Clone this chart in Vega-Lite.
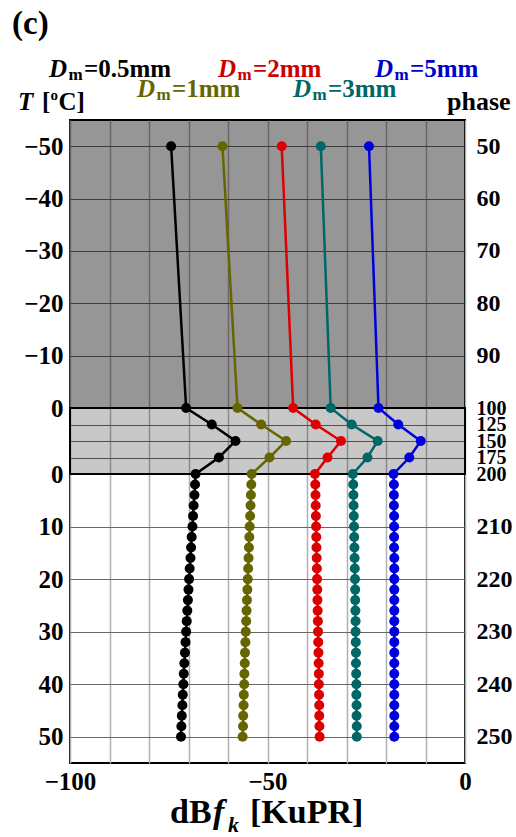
{
  "$schema": "https://vega.github.io/schema/vega-lite/v6.json",
  "width": 395,
  "height": 643,
  "autosize": "none",
  "padding": {"left": 70, "top": 120, "right": 51, "bottom": 74},
  "background": "white",
  "config": {"font": "Liberation Serif", "view": {"stroke": "black", "strokeWidth": 2}},
  "resolve": {"axis": {"x": "independent", "y": "independent"}},
  "datasets": {
    "series": [
      {"Dm": "0.5mm", "phase": 50, "dB": -74.4}, {"Dm": "0.5mm", "phase": 100, "dB": -70.6}, {"Dm": "0.5mm", "phase": 125, "dB": -64.1}, {"Dm": "0.5mm", "phase": 150, "dB": -58.1}, {"Dm": "0.5mm", "phase": 175, "dB": -62.3}, {"Dm": "0.5mm", "phase": 200, "dB": -68.2},
      {"Dm": "0.5mm", "phase": 202, "dB": -68.35}, {"Dm": "0.5mm", "phase": 204, "dB": -68.5}, {"Dm": "0.5mm", "phase": 206, "dB": -68.7}, {"Dm": "0.5mm", "phase": 208, "dB": -68.85}, {"Dm": "0.5mm", "phase": 210, "dB": -69.0}, {"Dm": "0.5mm", "phase": 212, "dB": -69.2}, {"Dm": "0.5mm", "phase": 214, "dB": -69.35}, {"Dm": "0.5mm", "phase": 216, "dB": -69.5}, {"Dm": "0.5mm", "phase": 218, "dB": -69.7}, {"Dm": "0.5mm", "phase": 220, "dB": -69.85}, {"Dm": "0.5mm", "phase": 222, "dB": -70.0}, {"Dm": "0.5mm", "phase": 224, "dB": -70.15}, {"Dm": "0.5mm", "phase": 226, "dB": -70.3}, {"Dm": "0.5mm", "phase": 228, "dB": -70.45}, {"Dm": "0.5mm", "phase": 230, "dB": -70.6}, {"Dm": "0.5mm", "phase": 232, "dB": -70.75}, {"Dm": "0.5mm", "phase": 234, "dB": -70.9}, {"Dm": "0.5mm", "phase": 236, "dB": -71.05}, {"Dm": "0.5mm", "phase": 238, "dB": -71.2}, {"Dm": "0.5mm", "phase": 240, "dB": -71.3}, {"Dm": "0.5mm", "phase": 242, "dB": -71.45}, {"Dm": "0.5mm", "phase": 244, "dB": -71.55}, {"Dm": "0.5mm", "phase": 246, "dB": -71.7}, {"Dm": "0.5mm", "phase": 248, "dB": -71.8}, {"Dm": "0.5mm", "phase": 250, "dB": -71.9},
      {"Dm": "1mm", "phase": 50, "dB": -61.4}, {"Dm": "1mm", "phase": 100, "dB": -57.6}, {"Dm": "1mm", "phase": 125, "dB": -51.6}, {"Dm": "1mm", "phase": 150, "dB": -45.3}, {"Dm": "1mm", "phase": 175, "dB": -49.5}, {"Dm": "1mm", "phase": 200, "dB": -54.0},
      {"Dm": "1mm", "phase": 202, "dB": -54.1}, {"Dm": "1mm", "phase": 204, "dB": -54.2}, {"Dm": "1mm", "phase": 206, "dB": -54.3}, {"Dm": "1mm", "phase": 208, "dB": -54.4}, {"Dm": "1mm", "phase": 210, "dB": -54.5}, {"Dm": "1mm", "phase": 212, "dB": -54.6}, {"Dm": "1mm", "phase": 214, "dB": -54.7}, {"Dm": "1mm", "phase": 216, "dB": -54.8}, {"Dm": "1mm", "phase": 218, "dB": -54.9}, {"Dm": "1mm", "phase": 220, "dB": -55.0}, {"Dm": "1mm", "phase": 222, "dB": -55.1}, {"Dm": "1mm", "phase": 224, "dB": -55.2}, {"Dm": "1mm", "phase": 226, "dB": -55.3}, {"Dm": "1mm", "phase": 228, "dB": -55.4}, {"Dm": "1mm", "phase": 230, "dB": -55.5}, {"Dm": "1mm", "phase": 232, "dB": -55.6}, {"Dm": "1mm", "phase": 234, "dB": -55.7}, {"Dm": "1mm", "phase": 236, "dB": -55.75}, {"Dm": "1mm", "phase": 238, "dB": -55.85}, {"Dm": "1mm", "phase": 240, "dB": -55.9}, {"Dm": "1mm", "phase": 242, "dB": -56.0}, {"Dm": "1mm", "phase": 244, "dB": -56.05}, {"Dm": "1mm", "phase": 246, "dB": -56.15}, {"Dm": "1mm", "phase": 248, "dB": -56.2}, {"Dm": "1mm", "phase": 250, "dB": -56.3},
      {"Dm": "2mm", "phase": 50, "dB": -46.4}, {"Dm": "2mm", "phase": 100, "dB": -43.5}, {"Dm": "2mm", "phase": 125, "dB": -37.8}, {"Dm": "2mm", "phase": 150, "dB": -31.4}, {"Dm": "2mm", "phase": 175, "dB": -34.8}, {"Dm": "2mm", "phase": 200, "dB": -38.0},
      {"Dm": "2mm", "phase": 202, "dB": -37.9}, {"Dm": "2mm", "phase": 204, "dB": -37.85}, {"Dm": "2mm", "phase": 206, "dB": -37.8}, {"Dm": "2mm", "phase": 208, "dB": -37.75}, {"Dm": "2mm", "phase": 210, "dB": -37.7}, {"Dm": "2mm", "phase": 212, "dB": -37.65}, {"Dm": "2mm", "phase": 214, "dB": -37.6}, {"Dm": "2mm", "phase": 216, "dB": -37.55}, {"Dm": "2mm", "phase": 218, "dB": -37.5}, {"Dm": "2mm", "phase": 220, "dB": -37.45}, {"Dm": "2mm", "phase": 222, "dB": -37.4}, {"Dm": "2mm", "phase": 224, "dB": -37.35}, {"Dm": "2mm", "phase": 226, "dB": -37.3}, {"Dm": "2mm", "phase": 228, "dB": -37.25}, {"Dm": "2mm", "phase": 230, "dB": -37.2}, {"Dm": "2mm", "phase": 232, "dB": -37.15}, {"Dm": "2mm", "phase": 234, "dB": -37.1}, {"Dm": "2mm", "phase": 236, "dB": -37.05}, {"Dm": "2mm", "phase": 238, "dB": -37.0}, {"Dm": "2mm", "phase": 240, "dB": -37.0}, {"Dm": "2mm", "phase": 242, "dB": -36.95}, {"Dm": "2mm", "phase": 244, "dB": -36.9}, {"Dm": "2mm", "phase": 246, "dB": -36.9}, {"Dm": "2mm", "phase": 248, "dB": -36.85}, {"Dm": "2mm", "phase": 250, "dB": -36.8},
      {"Dm": "3mm", "phase": 50, "dB": -36.5}, {"Dm": "3mm", "phase": 100, "dB": -34.0}, {"Dm": "3mm", "phase": 125, "dB": -28.7}, {"Dm": "3mm", "phase": 150, "dB": -22.1}, {"Dm": "3mm", "phase": 175, "dB": -24.7}, {"Dm": "3mm", "phase": 200, "dB": -28.4},
      {"Dm": "3mm", "phase": 202, "dB": -28.3}, {"Dm": "3mm", "phase": 204, "dB": -28.25}, {"Dm": "3mm", "phase": 206, "dB": -28.2}, {"Dm": "3mm", "phase": 208, "dB": -28.15}, {"Dm": "3mm", "phase": 210, "dB": -28.1}, {"Dm": "3mm", "phase": 212, "dB": -28.05}, {"Dm": "3mm", "phase": 214, "dB": -28.0}, {"Dm": "3mm", "phase": 216, "dB": -27.95}, {"Dm": "3mm", "phase": 218, "dB": -27.9}, {"Dm": "3mm", "phase": 220, "dB": -27.85}, {"Dm": "3mm", "phase": 222, "dB": -27.8}, {"Dm": "3mm", "phase": 224, "dB": -27.8}, {"Dm": "3mm", "phase": 226, "dB": -27.75}, {"Dm": "3mm", "phase": 228, "dB": -27.7}, {"Dm": "3mm", "phase": 230, "dB": -27.7}, {"Dm": "3mm", "phase": 232, "dB": -27.65}, {"Dm": "3mm", "phase": 234, "dB": -27.6}, {"Dm": "3mm", "phase": 236, "dB": -27.6}, {"Dm": "3mm", "phase": 238, "dB": -27.55}, {"Dm": "3mm", "phase": 240, "dB": -27.5}, {"Dm": "3mm", "phase": 242, "dB": -27.5}, {"Dm": "3mm", "phase": 244, "dB": -27.45}, {"Dm": "3mm", "phase": 246, "dB": -27.45}, {"Dm": "3mm", "phase": 248, "dB": -27.4}, {"Dm": "3mm", "phase": 250, "dB": -27.4},
      {"Dm": "5mm", "phase": 50, "dB": -24.3}, {"Dm": "5mm", "phase": 100, "dB": -21.9}, {"Dm": "5mm", "phase": 125, "dB": -16.9}, {"Dm": "5mm", "phase": 150, "dB": -11.2}, {"Dm": "5mm", "phase": 175, "dB": -14.1}, {"Dm": "5mm", "phase": 200, "dB": -18.1},
      {"Dm": "5mm", "phase": 202, "dB": -18.0}, {"Dm": "5mm", "phase": 204, "dB": -18.0}, {"Dm": "5mm", "phase": 206, "dB": -18.0}, {"Dm": "5mm", "phase": 208, "dB": -17.95}, {"Dm": "5mm", "phase": 210, "dB": -17.95}, {"Dm": "5mm", "phase": 212, "dB": -17.95}, {"Dm": "5mm", "phase": 214, "dB": -17.95}, {"Dm": "5mm", "phase": 216, "dB": -17.9}, {"Dm": "5mm", "phase": 218, "dB": -17.9}, {"Dm": "5mm", "phase": 220, "dB": -17.9}, {"Dm": "5mm", "phase": 222, "dB": -17.9}, {"Dm": "5mm", "phase": 224, "dB": -17.9}, {"Dm": "5mm", "phase": 226, "dB": -17.9}, {"Dm": "5mm", "phase": 228, "dB": -17.9}, {"Dm": "5mm", "phase": 230, "dB": -17.9}, {"Dm": "5mm", "phase": 232, "dB": -17.9}, {"Dm": "5mm", "phase": 234, "dB": -17.9}, {"Dm": "5mm", "phase": 236, "dB": -17.9}, {"Dm": "5mm", "phase": 238, "dB": -17.9}, {"Dm": "5mm", "phase": 240, "dB": -17.9}, {"Dm": "5mm", "phase": 242, "dB": -17.9}, {"Dm": "5mm", "phase": 244, "dB": -17.9}, {"Dm": "5mm", "phase": 246, "dB": -17.9}, {"Dm": "5mm", "phase": 248, "dB": -17.9}, {"Dm": "5mm", "phase": 250, "dB": -17.9}
    ]
  },
  "layer": [
    {
      "data": {"values": [{"zone": "ice", "top": 45, "bottom": 100}]},
      "mark": {"type": "rect", "fill": "black", "fillOpacity": 0.41, "strokeWidth": 0},
      "encoding": {
        "x": {"datum": -100, "type": "quantitative",
          "scale": {"domain": [-100, 0], "nice": false, "zero": false},
          "axis": {"orient": "bottom", "title": null, "values": [-100, -90, -80, -70, -60, -50, -40, -30, -20, -10, 0],
            "labelExpr": "datum.value == 0 ? '0' : (datum.value % 50 == 0 ? '−' + (-datum.value) : '')",
            "grid": true, "gridColor": "#b0b0b0", "gridWidth": 1.5, "ticks": false, "domain": false,
            "labelFont": "Liberation Serif", "labelFontWeight": "bold", "labelFontSize": 25, "labelColor": "black",
            "labelPadding": 6, "labelFlush": false, "labelOverlap": false, "labelBound": false}},
        "x2": {"datum": 0},
        "y": {"field": "top", "type": "quantitative",
          "scale": {"domain": [45, 100, 200, 255], "range": [0, 288, 354, 643], "nice": false, "zero": false},
          "axis": {"orient": "left", "title": null, "values": [50, 60, 70, 80, 90, 100, 125, 150, 175, 200, 210, 220, 230, 240, 250],
            "labelExpr": "datum.value <= 100 ? (datum.value == 100 ? '0' : '−' + (100 - datum.value)) : (datum.value >= 200 ? '' + (datum.value - 200) : '')",
            "grid": true, "gridColor": "#666666", "gridWidth": 1, "ticks": false, "domain": false,
            "labelFont": "Liberation Serif", "labelFontWeight": "bold", "labelFontSize": 25, "labelColor": "black",
            "labelPadding": 7, "labelFlush": false, "labelOverlap": false, "labelBound": false}},
        "y2": {"field": "bottom"}
      }
    },
    {
      "data": {"values": [{"zone": "melting", "top": 100, "bottom": 200}]},
      "mark": {"type": "rect", "fill": "black", "fillOpacity": 0.216, "stroke": "black", "strokeWidth": 2},
      "encoding": {
        "x": {"datum": -100, "type": "quantitative", "axis": null},
        "x2": {"datum": 0},
        "y": {"field": "top", "type": "quantitative",
          "axis": {"orient": "right", "title": null, "values": [50, 60, 70, 80, 90, 100, 125, 150, 175, 200, 210, 220, 230, 240, 250],
            "grid": false, "ticks": false, "domain": false,
            "labelFont": "Liberation Serif", "labelFontWeight": "bold",
            "labelFontSize": {"condition": {"test": "datum.value >= 100 && datum.value <= 200", "value": 20}, "value": 24},
            "labelColor": "black", "labelPadding": 11, "labelFlush": false, "labelOverlap": false, "labelBound": false}},
        "y2": {"field": "bottom"}
      }
    },
    {
      "data": {"name": "series"},
      "mark": {"type": "line", "strokeWidth": 2.5},
      "encoding": {
        "x": {"field": "dB", "type": "quantitative", "axis": null},
        "y": {"field": "phase", "type": "quantitative", "axis": null},
        "order": {"field": "phase", "type": "quantitative"},
        "color": {"field": "Dm", "type": "nominal", "legend": null,
          "scale": {"domain": ["0.5mm", "1mm", "2mm", "3mm", "5mm"], "range": ["#000000", "#666600", "#dd0000", "#006666", "#0000dd"]}}
      }
    },
    {
      "data": {"name": "series"},
      "mark": {"type": "point", "filled": true, "size": 100, "opacity": 1},
      "encoding": {
        "x": {"field": "dB", "type": "quantitative", "axis": null},
        "y": {"field": "phase", "type": "quantitative", "axis": null},
        "color": {"field": "Dm", "type": "nominal", "legend": null}
      }
    },
    {"data": {"values": [{}]}, "mark": {"type": "text", "text": "(c)", "fontWeight": "bold", "fontSize": 33, "align": "left", "baseline": "alphabetic", "fill": "black"},
     "encoding": {"x": {"datum": -114.68, "type": "quantitative", "axis": null}, "y": {"datum": 28.58, "type": "quantitative", "axis": null}}},

    {"data": {"values": [{}]}, "mark": {"type": "text", "text": "D", "fontWeight": "bold", "fontStyle": "italic", "fontSize": 25, "align": "left", "baseline": "alphabetic", "fill": "black"},
     "encoding": {"x": {"datum": -105.32, "type": "quantitative", "axis": null}, "y": {"datum": 36.79, "type": "quantitative", "axis": null}}},
    {"data": {"values": [{}]}, "mark": {"type": "text", "text": "m", "fontWeight": "bold", "fontSize": 17, "align": "left", "baseline": "alphabetic", "fill": "black", "dx": 19.5, "dy": 3},
     "encoding": {"x": {"datum": -105.32, "type": "quantitative", "axis": null}, "y": {"datum": 36.79, "type": "quantitative", "axis": null}}},
    {"data": {"values": [{}]}, "mark": {"type": "text", "text": "=0.5mm", "fontWeight": "bold", "fontSize": 25, "align": "left", "baseline": "alphabetic", "fill": "black", "dx": 35},
     "encoding": {"x": {"datum": -105.32, "type": "quantitative", "axis": null}, "y": {"datum": 36.79, "type": "quantitative", "axis": null}}},

    {"data": {"values": [{}]}, "mark": {"type": "text", "text": "D", "fontWeight": "bold", "fontStyle": "italic", "fontSize": 25, "align": "left", "baseline": "alphabetic", "fill": "#cc0000"},
     "encoding": {"x": {"datum": -62.53, "type": "quantitative", "axis": null}, "y": {"datum": 36.79, "type": "quantitative", "axis": null}}},
    {"data": {"values": [{}]}, "mark": {"type": "text", "text": "m", "fontWeight": "bold", "fontSize": 17, "align": "left", "baseline": "alphabetic", "fill": "#cc0000", "dx": 19.5, "dy": 3},
     "encoding": {"x": {"datum": -62.53, "type": "quantitative", "axis": null}, "y": {"datum": 36.79, "type": "quantitative", "axis": null}}},
    {"data": {"values": [{}]}, "mark": {"type": "text", "text": "=2mm", "fontWeight": "bold", "fontSize": 25, "align": "left", "baseline": "alphabetic", "fill": "#cc0000", "dx": 35},
     "encoding": {"x": {"datum": -62.53, "type": "quantitative", "axis": null}, "y": {"datum": 36.79, "type": "quantitative", "axis": null}}},

    {"data": {"values": [{}]}, "mark": {"type": "text", "text": "D", "fontWeight": "bold", "fontStyle": "italic", "fontSize": 25, "align": "left", "baseline": "alphabetic", "fill": "#0000cc"},
     "encoding": {"x": {"datum": -22.78, "type": "quantitative", "axis": null}, "y": {"datum": 36.79, "type": "quantitative", "axis": null}}},
    {"data": {"values": [{}]}, "mark": {"type": "text", "text": "m", "fontWeight": "bold", "fontSize": 17, "align": "left", "baseline": "alphabetic", "fill": "#0000cc", "dx": 19.5, "dy": 3},
     "encoding": {"x": {"datum": -22.78, "type": "quantitative", "axis": null}, "y": {"datum": 36.79, "type": "quantitative", "axis": null}}},
    {"data": {"values": [{}]}, "mark": {"type": "text", "text": "=5mm", "fontWeight": "bold", "fontSize": 25, "align": "left", "baseline": "alphabetic", "fill": "#0000cc", "dx": 35},
     "encoding": {"x": {"datum": -22.78, "type": "quantitative", "axis": null}, "y": {"datum": 36.79, "type": "quantitative", "axis": null}}},

    {"data": {"values": [{}]}, "mark": {"type": "text", "text": "D", "fontWeight": "bold", "fontStyle": "italic", "fontSize": 25, "align": "left", "baseline": "alphabetic", "fill": "#666600"},
     "encoding": {"x": {"datum": -83.04, "type": "quantitative", "axis": null}, "y": {"datum": 40.61, "type": "quantitative", "axis": null}}},
    {"data": {"values": [{}]}, "mark": {"type": "text", "text": "m", "fontWeight": "bold", "fontSize": 17, "align": "left", "baseline": "alphabetic", "fill": "#666600", "dx": 19.5, "dy": 3},
     "encoding": {"x": {"datum": -83.04, "type": "quantitative", "axis": null}, "y": {"datum": 40.61, "type": "quantitative", "axis": null}}},
    {"data": {"values": [{}]}, "mark": {"type": "text", "text": "=1mm", "fontWeight": "bold", "fontSize": 25, "align": "left", "baseline": "alphabetic", "fill": "#666600", "dx": 35},
     "encoding": {"x": {"datum": -83.04, "type": "quantitative", "axis": null}, "y": {"datum": 40.61, "type": "quantitative", "axis": null}}},

    {"data": {"values": [{}]}, "mark": {"type": "text", "text": "D", "fontWeight": "bold", "fontStyle": "italic", "fontSize": 25, "align": "left", "baseline": "alphabetic", "fill": "#006666"},
     "encoding": {"x": {"datum": -43.54, "type": "quantitative", "axis": null}, "y": {"datum": 40.61, "type": "quantitative", "axis": null}}},
    {"data": {"values": [{}]}, "mark": {"type": "text", "text": "m", "fontWeight": "bold", "fontSize": 17, "align": "left", "baseline": "alphabetic", "fill": "#006666", "dx": 19.5, "dy": 3},
     "encoding": {"x": {"datum": -43.54, "type": "quantitative", "axis": null}, "y": {"datum": 40.61, "type": "quantitative", "axis": null}}},
    {"data": {"values": [{}]}, "mark": {"type": "text", "text": "=3mm", "fontWeight": "bold", "fontSize": 25, "align": "left", "baseline": "alphabetic", "fill": "#006666", "dx": 35},
     "encoding": {"x": {"datum": -43.54, "type": "quantitative", "axis": null}, "y": {"datum": 40.61, "type": "quantitative", "axis": null}}},

    {"data": {"values": [{}]}, "mark": {"type": "text", "text": "T", "fontWeight": "bold", "fontStyle": "italic", "fontSize": 25, "align": "left", "baseline": "alphabetic", "fill": "black"},
     "encoding": {"x": {"datum": -113.16, "type": "quantitative", "axis": null}, "y": {"datum": 43.09, "type": "quantitative", "axis": null}}},
    {"data": {"values": [{}]}, "mark": {"type": "text", "text": "[", "fontWeight": "bold", "fontSize": 25, "align": "left", "baseline": "alphabetic", "fill": "black", "dx": 24},
     "encoding": {"x": {"datum": -113.16, "type": "quantitative", "axis": null}, "y": {"datum": 43.09, "type": "quantitative", "axis": null}}},
    {"data": {"values": [{}]}, "mark": {"type": "text", "text": "o", "fontWeight": "bold", "fontSize": 15, "align": "left", "baseline": "alphabetic", "fill": "black", "dx": 32.5, "dy": -10},
     "encoding": {"x": {"datum": -113.16, "type": "quantitative", "axis": null}, "y": {"datum": 43.09, "type": "quantitative", "axis": null}}},
    {"data": {"values": [{}]}, "mark": {"type": "text", "text": "C]", "fontWeight": "bold", "fontSize": 25, "align": "left", "baseline": "alphabetic", "fill": "black", "dx": 40.5},
     "encoding": {"x": {"datum": -113.16, "type": "quantitative", "axis": null}, "y": {"datum": 43.09, "type": "quantitative", "axis": null}}},

    {"data": {"values": [{}]}, "mark": {"type": "text", "text": "phase", "fontWeight": "bold", "fontSize": 26, "align": "left", "baseline": "alphabetic", "fill": "black"},
     "encoding": {"x": {"datum": -4.56, "type": "quantitative", "axis": null}, "y": {"datum": 43.09, "type": "quantitative", "axis": null}}},

    {"data": {"values": [{}]}, "mark": {"type": "text", "text": "dB", "fontWeight": "bold", "fontSize": 34, "align": "left", "baseline": "alphabetic", "fill": "black"},
     "encoding": {"x": {"datum": -74.68, "type": "quantitative", "axis": null}, "y": {"datum": 266.42, "type": "quantitative", "axis": null}}},
    {"data": {"values": [{}]}, "mark": {"type": "text", "text": "f", "fontWeight": "bold", "fontStyle": "italic", "fontSize": 34, "align": "left", "baseline": "alphabetic", "fill": "black"},
     "encoding": {"x": {"datum": -63.8, "type": "quantitative", "axis": null}, "y": {"datum": 266.42, "type": "quantitative", "axis": null}}},
    {"data": {"values": [{}]}, "mark": {"type": "text", "text": "k", "fontWeight": "bold", "fontStyle": "italic", "fontSize": 22, "align": "left", "baseline": "alphabetic", "fill": "black", "dy": 9},
     "encoding": {"x": {"datum": -60.0, "type": "quantitative", "axis": null}, "y": {"datum": 266.42, "type": "quantitative", "axis": null}}},
    {"data": {"values": [{}]}, "mark": {"type": "text", "text": "[KuPR]", "fontWeight": "bold", "fontSize": 34, "align": "left", "baseline": "alphabetic", "fill": "black"},
     "encoding": {"x": {"datum": -54.43, "type": "quantitative", "axis": null}, "y": {"datum": 266.42, "type": "quantitative", "axis": null}}}
  ]
}
